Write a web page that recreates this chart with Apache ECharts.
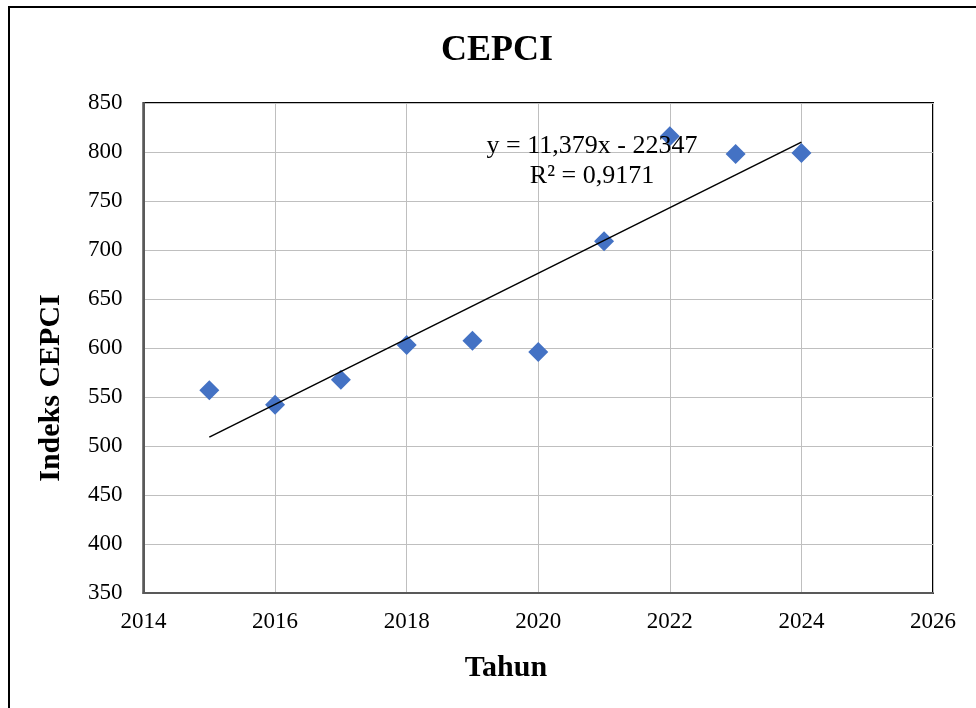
<!DOCTYPE html>
<html>
<head>
<meta charset="utf-8">
<script src="https://cdn.jsdelivr.net/npm/echarts@6/dist/echarts.min.js"></script>
<style>
html,body{margin:0;padding:0;background:#fff;}
#c{width:976px;height:708px;}
</style>
</head>
<body>
<div id="c"></div>
<script>
var years = [2015, 2016, 2017, 2018, 2019, 2020, 2021, 2022, 2023, 2024];
var cepci = [557, 542, 567.5, 603, 607.5, 596, 709, 816, 798, 799];
var trendYears = [2015, 2024];
var trendValues = [509, 810];
var xTicks = [2014, 2026, 2];
var yTicks = [350, 850, 50];
var equationText = 'y = 11,379x - 22347';
var r2Text = 'R² = 0,9171';

var font = "'Liberation Serif', 'Times New Roman', serif";
var chart = echarts.init(document.getElementById('c'), null, {renderer: 'canvas'});
var option = {
  backgroundColor: '#fff',
  animation: false,
  title: {
    text: 'CEPCI',
    left: 436,
    top: 28,
    textStyle: {fontFamily: font, fontSize: 36, fontWeight: 'bold', color: '#000'}
  },
  grid: {
    left: 143.5, right: 43, top: 103, bottom: 115,
    show: true, borderColor: '#000', borderWidth: 2, backgroundColor: 'transparent'
  },
  xAxis: {
    type: 'value',
    min: xTicks[0], max: xTicks[1], interval: xTicks[2],
    axisLine: {show: true, lineStyle: {color: '#595959', width: 2}},
    axisTick: {show: false},
    axisLabel: {fontFamily: font, fontSize: 23, color: '#000', margin: 17,
      formatter: function (v) { return String(v); }},
    splitLine: {show: true, lineStyle: {color: '#bfbfbf', width: 1}}
  },
  yAxis: {
    type: 'value',
    min: yTicks[0], max: yTicks[1], interval: yTicks[2],
    axisLine: {show: true, lineStyle: {color: '#595959', width: 2}},
    axisTick: {show: false},
    axisLabel: {fontFamily: font, fontSize: 23, color: '#000', margin: 21,
      formatter: function (v) { return String(v); }},
    splitLine: {show: true, lineStyle: {color: '#bfbfbf', width: 1}}
  },
  series: [
    {
      type: 'line',
      data: trendYears.map(function (x, i) { return [x, trendValues[i]]; }),
      showSymbol: false,
      symbol: 'none',
      lineStyle: {color: '#000', width: 1.5},
      z: 3
    },
    {
      type: 'scatter',
      data: years.map(function (x, i) { return [x, cepci[i]]; }),
      symbol: 'diamond',
      symbolSize: [20, 20],
      itemStyle: {color: '#4472C4', opacity: 1},
      z: 2
    }
  ],
  graphic: [
    {
      type: 'rect',
      shape: {x: 9, y: 7, width: 1000, height: 1000},
      style: {fill: 'none', stroke: '#000', lineWidth: 2},
      silent: true
    },
    {
      type: 'text',
      x: 592, y: 146,
      style: {text: equationText, fontFamily: font, fontSize: 26, fill: '#000', align: 'center', verticalAlign: 'middle'},
      z: 10
    },
    {
      type: 'text',
      x: 592, y: 176,
      style: {text: r2Text, fontFamily: font, fontSize: 26, fill: '#000', align: 'center', verticalAlign: 'middle'},
      z: 10
    },
    {
      type: 'text',
      x: 506, y: 668,
      style: {text: 'Tahun', fontFamily: font, fontSize: 30, fontWeight: 'bold', fill: '#000', align: 'center', verticalAlign: 'middle'},
      z: 10
    },
    {
      type: 'text',
      x: 51, y: 388,
      rotation: Math.PI / 2,
      style: {text: 'Indeks CEPCI', fontFamily: font, fontSize: 30, fontWeight: 'bold', fill: '#000', align: 'center', verticalAlign: 'middle'},
      z: 10
    }
  ]
};
chart.setOption(option);
</script>
</body>
</html>
